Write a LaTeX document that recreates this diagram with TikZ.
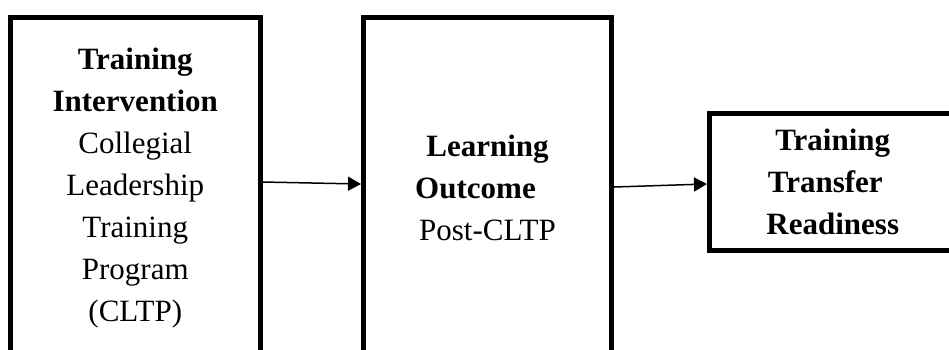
\documentclass[tikz,border=0pt]{standalone}
\usepackage{fontspec}
\setmainfont{Liberation Serif}
\usetikzlibrary{arrows.meta, calc}

\begin{document}
\begin{tikzpicture}[x=1pt, y=-1pt, box/.style = {draw, line width=5pt, align=center, inner sep=0pt, font=\fontsize{31}{42}\selectfont}, link/.style = {line width=1.5pt, -{Triangle[length=13pt, width=14pt]}}]
      \useasboundingbox (0,0) rectangle (949,349);

      \node[box, minimum width=249.5pt, minimum height=341pt] (intv) at (135.25,188)
        {\textbf{Training}\\ \textbf{Intervention}\\ Collegial\\ Leadership\\ Training\\ Program\\ (CLTP)};
      \node[box, minimum width=248pt, minimum height=341pt] (outc) at (487.5,188)
        {\textbf{Learning}\\ \textbf{Outcome}\rule{24pt}{0pt}\\ Post-CLTP};
      \node[box, minimum width=246.5pt, minimum height=137pt] (tran) at (832.75,182)
        {\textbf{Training}\\ \textbf{Transfer}\rule{15pt}{0pt}\\ \textbf{Readiness}};

      \draw[link] ($(intv.east)+(0,-6)$) -- ($(outc.west)+(0,-4)$);
      \draw[link] ($(outc.east)+(0,-1)$) -- ($(tran.west)+(0,2)$);
    \end{tikzpicture}
\end{document}
